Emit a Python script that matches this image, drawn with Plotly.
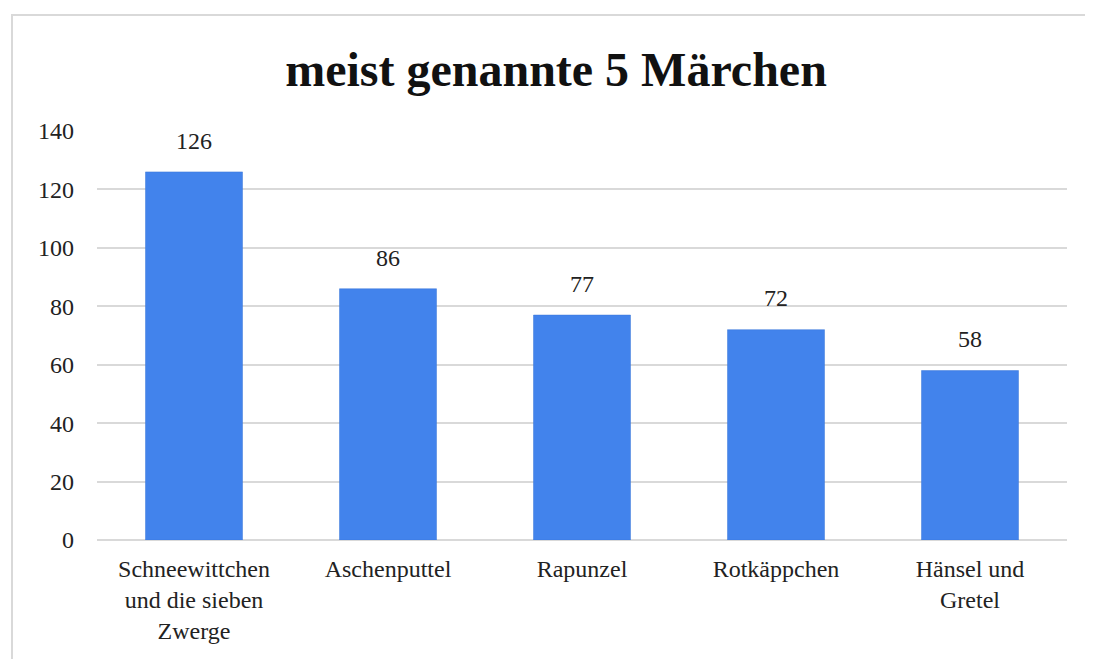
import plotly.graph_objects as go

categories = ["Schneewittchen<br>und die sieben<br>Zwerge", "Aschenputtel", "Rapunzel", "Rotkäppchen", "Hänsel und<br>Gretel"]
values = [126, 86, 77, 72, 58]
y_ticks = [0, 20, 40, 60, 80, 100, 120, 140]

OFF = 8  # page body margin
W, H = 1093 - OFF, 659 - OFF
L, R, T, B = 97 - OFF, 26, 131 - OFF, 119
pw, ph = W - L - R, H - T - B

def px_to_paper_x(px):
    return (px - OFF - L) / pw

def px_to_paper_y(py):
    return (H - B - (py - OFF)) / ph

FONT = "Liberation Serif"

fig = go.Figure()
fig.add_trace(go.Bar(
    x=categories, y=values,
    width=0.5,
    marker=dict(color="#4283ec", line=dict(color="#3a76d8", width=0.5)),
    hoverinfo="x+y",
))
fig.add_trace(go.Scatter(
    x=categories, y=values,
    mode="markers+text",
    marker=dict(size=26, opacity=0),
    text=[str(v) for v in values],
    textposition="top center",
    textfont=dict(family=FONT, size=24, color="#222222"),
    cliponaxis=False,
    hoverinfo="skip",
))

fig.update_layout(
    width=W, height=H,
    margin=dict(l=L, r=R, t=T, b=B),
    paper_bgcolor="white", plot_bgcolor="white",
    title=dict(text="<b>meist genannte 5 Märchen</b>", x=px_to_paper_x(556) * pw / W + L / W,
               xanchor="center", y=1 - (69 - OFF) / H, yanchor="middle",
               font=dict(family=FONT, size=48, color="#111111")),
    font=dict(family=FONT, size=24, color="#222222"),
    showlegend=False,
    xaxis=dict(showgrid=False, showline=False, ticks="", tickfont=dict(size=24),
               range=[-0.5, 4.5], ticklabelstandoff=12),
    yaxis=dict(range=[0, 140], tickvals=y_ticks, showgrid=True, gridcolor="#d9d9d9",
               gridwidth=1.5, zeroline=True, zerolinecolor="#d9d9d9", zerolinewidth=1.5,
               showline=False, ticks="", ticklabelstandoff=22, tickfont=dict(size=24)),
    shapes=[dict(type="rect", xref="paper", yref="paper",
                 x0=px_to_paper_x(12), x1=px_to_paper_x(1110),
                 y0=px_to_paper_y(680), y1=px_to_paper_y(15),
                 line=dict(color="#d9d9d9", width=2), layer="below")],
)

fig.write_html("out.html")
